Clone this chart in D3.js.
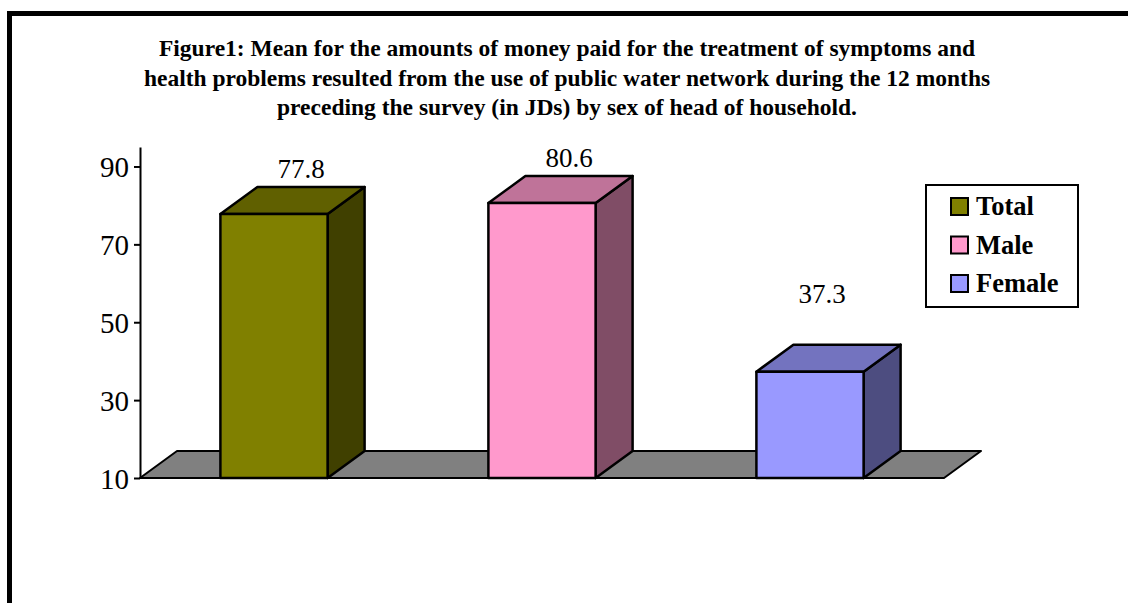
<!DOCTYPE html>
<html>
<head>
<meta charset="utf-8">
<script src="https://cdn.jsdelivr.net/npm/d3@7"></script>
<style>
	body { margin: 0; background: #fff; }
	svg { display: block; font-family: "Liberation Serif", "Times New Roman", serif; }
</style>
</head>
<body>
<div id="chart"></div>
<script>

const categories = ["Total", "Male", "Female"];
const values = [77.8, 80.6, 37.3];
const tickValues = [10, 30, 50, 70, 90];
const titleLines = [
	"Figure1: Mean for the amounts of money paid for the treatment of symptoms and",
	"health problems resulted from the use of public water network during the 12 months",
	"preceding the survey (in JDs) by sex of head of household."
];

// front / top / side shades for each series
const frontColors = ["#808000", "#FF99CC", "#9999FF"];
const topColors = ["#606000", "#BF7399", "#7373BF"];
const sideColors = ["#404000", "#804D66", "#4D4D80"];

let width = 1128,
	height = 603;

let depthX = 37,
	depthY = 27;

let svg = d3.select("#chart")
	.append("svg")
		.attr("width", width)
		.attr("height", height);

// outer frame (right and bottom edges run off the page)
svg.append("path")
	.attr("d", "M9.5," + height + " L9.5,13.5 L" + width + ",13.5")
	.attr("fill", "none")
	.attr("stroke", "black")
	.attr("stroke-width", 5);

svg.append("text")
	.attr("text-anchor", "middle")
	.style("font-weight", "bold")
	.style("font-size", "23.5px")
	.selectAll("tspan")
	.data(titleLines)
	.enter()
	.append("tspan")
		.attr("x", 567)
		.attr("y", (d, i) => 56 + i * 29.5)
		.text(d => d);

let x = d3.scaleBand()
	.domain(categories)
	.range([140, 944])
	.paddingInner(0.6)
	.paddingOuter(0.3);

let y = d3.scaleLinear()
	.domain([10, 95])
	.range([478, 147]);

// floor
let x0 = 140, x1 = 944, yb = y(10);
svg.append("path")
	.attr("d", "M" + x0 + "," + yb + " L" + (x0 + depthX) + "," + (yb - depthY) +
		" L" + (x1 + depthX) + "," + (yb - depthY) + " L" + x1 + "," + yb + " Z")
	.attr("fill", "#808080")
	.attr("stroke", "black")
	.attr("stroke-width", 2)
	.attr("stroke-linejoin", "round");

// y axis
let axis = svg.append("g")
	.attr("transform", "translate(140,0)")
	.call(d3.axisLeft(y).tickValues(tickValues).tickSize(6).tickPadding(5).tickSizeOuter(0))
	.attr("font-family", null)
	.attr("font-size", null);

axis.select(".domain").attr("stroke-width", 2);
axis.selectAll(".tick line").attr("stroke-width", 2);
axis.selectAll(".tick text")
	.style("font-size", "29px")
	.attr("dy", "0.35em")
	.attr("fill", "black");

let bars = svg.selectAll(".bar")
	.data(values)
	.enter()
	.append("g")
	.attr("class", "bar");

bars.append("path")
	.attr("d", (d, i) => {
		let l = x(categories[i]), r = l + x.bandwidth(), t = y(d);
		return "M" + r + "," + t + " L" + (r + depthX) + "," + (t - depthY) +
			" L" + (r + depthX) + "," + (yb - depthY) + " L" + r + "," + yb + " Z";
	})
	.attr("fill", (d, i) => sideColors[i]);

bars.append("path")
	.attr("d", (d, i) => {
		let l = x(categories[i]), r = l + x.bandwidth(), t = y(d);
		return "M" + l + "," + t + " L" + (l + depthX) + "," + (t - depthY) +
			" L" + (r + depthX) + "," + (t - depthY) + " L" + r + "," + t + " Z";
	})
	.attr("fill", (d, i) => topColors[i]);

bars.append("rect")
	.attr("x", (d, i) => x(categories[i]))
	.attr("y", d => y(d))
	.attr("width", x.bandwidth())
	.attr("height", d => yb - y(d))
	.attr("fill", (d, i) => frontColors[i]);

bars.selectAll("path, rect")
	.attr("stroke", "black")
	.attr("stroke-width", 2.5)
	.attr("stroke-linejoin", "round");

// value labels (the last one sits higher, as in the original)
svg.selectAll(".val")
	.data(values)
	.enter()
	.append("text")
	.attr("class", "val")
	.attr("text-anchor", "middle")
	.style("font-size", "27px")
	.attr("x", (d, i) => x(categories[i]) + x.bandwidth() / 2 + (i == 2 ? 12 : 27))
	.attr("y", (d, i) => y(d) - depthY - (i == 2 ? 42 : 9))
	.text(d => d.toFixed(1));

// legend
let legend = svg.append("g");

legend.append("rect")
	.attr("x", 926)
	.attr("y", 185)
	.attr("width", 152)
	.attr("height", 122)
	.attr("fill", "white")
	.attr("stroke", "black")
	.attr("stroke-width", 2);

let items = legend.selectAll(".item")
	.data(categories)
	.enter()
	.append("g")
	.attr("transform", (d, i) => "translate(951," + (198 + i * 38.5) + ")");

items.append("rect")
	.attr("width", 17)
	.attr("height", 17)
	.attr("fill", (d, i) => frontColors[i])
	.attr("stroke", "black")
	.attr("stroke-width", 2);

items.append("text")
	.attr("x", 25)
	.attr("y", 17)
	.style("font-size", "26.5px")
	.style("font-weight", "bold")
	.text(d => d);

</script>
</body>
</html>
